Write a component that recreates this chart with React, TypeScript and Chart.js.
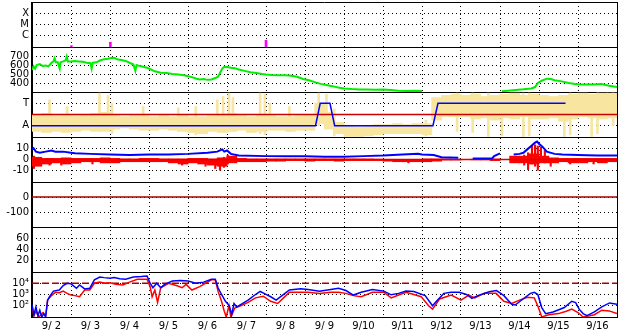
import React, { useEffect, useRef } from 'react';
import { Chart, registerables } from 'chart.js';

Chart.register(...registerables);

const FONT = "'DejaVu Sans', 'Liberation Sans', sans-serif";

// ---------- X axis (days since 9/2 00:00) ----------
const DAY_LABELS = ['9/ 2', '9/ 3', '9/ 4', '9/ 5', '9/ 6', '9/ 7', '9/ 8', '9/ 9', '9/10', '9/11', '9/12', '9/13', '9/14', '9/15', '9/16'];
const X_MIN = 0;
const X_MAX = 15;

// ---------- Panel 1: X-ray flares ----------
const FLARE_CLASS_LABELS = ['', 'C', 'M', 'X', ''];
const FLARE_T = [1.01, 2.01, 6.0];
const FLARE_V = [0.12, 0.42, 0.6];

// ---------- Panel 2: solar wind speed ----------
const SW_TICKS_SHOWN = [400, 500, 600, 700];
const SW_T = [0, 0.04, 0.08, 0.12, 0.2, 0.27, 0.35, 0.42, 0.5, 0.55,
  0.58, 0.61, 0.66, 0.71, 0.73, 0.8, 0.86, 0.89, 0.92, 1.0,
  1.1, 1.2, 1.3, 1.4, 1.5, 1.53, 1.56, 1.65, 1.74, 1.85,
  1.95, 2.05, 2.12, 2.2, 2.3, 2.4, 2.5, 2.6, 2.65, 2.68,
  2.75, 2.85, 2.95, 3.05, 3.15, 3.3, 3.45, 3.6, 3.75, 3.9,
  4.0, 4.1, 4.2, 4.3, 4.4, 4.5, 4.6, 4.7, 4.77, 4.83,
  4.88, 4.93, 5.0, 5.1, 5.2, 5.3, 5.45, 5.6, 5.75, 5.9,
  6.0, 6.15, 6.3, 6.5, 6.65, 6.8, 6.95, 7.1, 7.25, 7.4,
  7.55, 7.7, 7.85, 8.0, 8.2, 8.4, 8.6, 8.8, 9.0, 9.2,
  9.4, 9.6, 9.8, 10.0, 10.02, 12.05, 12.2, 12.4, 12.6, 12.8,
  12.9, 12.97, 13.07, 13.2, 13.3, 13.4, 13.58, 13.76, 13.93, 14.1,
  14.4, 14.6, 14.8, 15.0];
const SW_V = [545, 585, 560, 600, 610, 590, 595, 585, 625, 640,
  675, 630, 630, 560, 630, 640, 650, 695, 640, 640,
  645, 640, 635, 625, 620, 560, 625, 630, 650, 665,
  670, 680, 678, 660, 655, 645, 625, 605, 535, 600,
  590, 580, 570, 550, 530, 515, 510, 500, 495, 485,
  475, 465, 450, 440, 445, 435, 440, 455, 470, 520,
  560, 580, 578, 570, 565, 550, 535, 520, 510, 500,
  495, 490, 487, 485, 480, 470, 445, 430, 410, 390,
  378, 365, 350, 340, 333, 328, 328, 326, 328, 322,
  315, 312, 315, 312, null, 308, 315, 322, 330, 340,
  355, 400, 425, 448, 445, 430, 418, 400, 390, 382,
  384, 388, 370, 355];

// ---------- Panel 3: IMF sector (A / T) ----------
const SECTOR_LABELS = ['', 'A', '', 'T', ''];
const BIN_DAYS = 0.25;
const PHI_LO = [0.5, 0.4, 0.5, 0.4, 0.5, 0.6, 0.5, 0.5, 0.7, 0.8, 0.7, 0.6, 0.6, 0.7, 0.6, 0.5,
  0.4, 0.3, 0.5, 0.4, 0.5, 0.6, 0.4, 0.5, 0.6, 0.6, 0.5, 0.6, 0.6, 1.2, 0.7, 0.3,
  0.0, 0.0, 0.1, 0.2, 0.3, 0.3, 0.3, 0.3, 0.2, 1.5, 1.8, 1.8, 1.8, 1.6, 1.7, 1.5,
  1.7, 1.6, 1.8, 1.6, 1.6, 1.7, 1.4, 1.6, 1.8, 1.7, 1.6, 1.7];
const PHI_HI = [2.0, 2.1, 1.9, 2.0, 1.9, 2.0, 2.1, 2.2, 1.9, 1.8, 1.9, 1.9, 1.8, 1.9, 1.8, 2.0,
  1.8, 1.8, 1.9, 2.0, 2.1, 1.9, 1.8, 2.0, 1.9, 1.8, 1.8, 1.9, 2.0, 3.0, 2.2, 1.3,
  1.0, 0.9, 1.0, 1.1, 1.1, 1.2, 1.1, 1.2, 1.2, 3.5, 3.7, 3.8, 3.7, 3.8, 3.6, 3.7,
  3.8, 3.9, 3.7, 3.8, 3.7, 3.6, 3.7, 3.8, 3.9, 3.8, 3.9, 3.9];
const PHI_SPIKE_T = [0.45, 0.9, 1.73, 1.95, 2.05, 2.85, 3.75, 4.2, 4.75, 4.9,
  5.05, 5.15, 5.85, 5.97, 6.1, 6.6, 7.35, 7.55, 7.75, 10.1,
  10.9, 11.3, 11.7, 12.05, 12.6, 12.75, 13.65, 13.8, 14.35, 14.5, 14.9];
const PHI_SPIKE_LO = [1.0, 0.8, 0.5, 1.0, 0.3, 1.0, 0.5, 0.2, 1.0, 0.5,
  0.5, 0.5, 0.3, 0.2, 0.8, 0.5, 1.0, 1.0, 0.1, 0.1,
  0.5, 0.4, 0.0, 0.1, 0.0, 0.1, 0.0, 0.2, 0.0, 0.3, 1.0];
const PHI_SPIKE_HI = [3.3, 2.7, 3.9, 3.7, 3.0, 2.7, 2.6, 2.7, 3.3, 3.6,
  3.9, 3.5, 3.9, 3.8, 3.0, 2.7, 3.9, 3.8, 2.5, 1.5,
  3.9, 3.9, 3.9, 3.5, 3.9, 3.9, 3.5, 3.9, 3.8, 3.9, 3.9];
const SECTOR_T = [0, 7.27, 7.39, 7.64, 7.76, 10.28, 10.41, 13.68];
const SECTOR_V = [1, 1, 3, 3, 1, 1, 3, 3];
const SECTOR_BOUNDARY = 2;

// ---------- Panel 4: IMF Bt / Bz ----------
const IMF_TICKS_SHOWN = [10, 0, -10];
const BT_T = [0, 0.04, 0.1, 0.2, 0.35, 0.5, 0.6, 0.8, 1.0, 1.1,
  1.5, 2.0, 2.5, 3.0, 3.5, 4.0, 4.5, 4.75, 4.88, 4.93,
  5.0, 5.1, 5.3, 6.0, 6.5, 7.0, 7.5, 8.0, 8.5, 9.0,
  9.5, 9.9, 10.0, 10.3, 10.5, 10.93, 10.95, 11.3, 11.8, 11.85,
  12.0, 12.02, 12.35, 12.5, 12.6, 12.7, 12.8, 12.9, 12.95, 13.0,
  13.1, 13.2, 13.4, 13.6, 14.0, 14.5, 15.0];
const BT_V = [9, 10, 7, 6, 7, 8, 7, 7, 6, 5.5,
  5, 4.5, 4, 4.5, 4.5, 5, 6, 7, 9, 7,
  8, 5, 3.5, 3, 3, 2.8, 2.5, 2.5, 3, 3.5,
  4.5, 5, 4.5, 4, 2, 1.5, null, 1, 1, 3,
  5.5, null, 4.5, 5, 6, 9, 12, 15, 16, 14,
  11, 7, 5, 4.5, 4, 3.5, 3.5];
const BZ_LO = [-6, -4, -3, -4, -3, -2, -2, -3, -3, -2, -2, -2, -2, -2, -3, -4,
  -3, -4, -5, -6, -3, -2, -2, -2, -1.5, -1.5, -1, -1, -1.5, -1, -1, -1.5,
  -1, -1, -1, -1, -1.5, -2, -2, -2, -2, -1.5, -0.5, -0.5, null, -0.3, -0.3, -1,
  null, -3, -3, -4, -3, -3, -2, -3, -3, -2, -3, -2];
const BZ_HI = [2, 1, 1, 1.5, 1, 1, 1, 1.5, 1, 0.5, 0.5, 1, 1, 0.5, 0.5, 0.5,
  1, 1, 0.5, 1.5, 3, 1, 0.5, 0.5, 0.5, 0.5, 0.5, 0.5, 0.5, 0.5, 0.5, 0.5,
  0.5, 0.5, 0.5, 0.3, 0, 0, 0, 0, 0.5, 0.5, 0.5, 0.3, null, 0.3, 0.3, 0.5,
  null, 3, 3, 5, 3, 1.5, 1, 1, 1, 1, 1, 1];
const BZ_SPIKE_T = [0.05, 0.45, 0.75, 1.55, 3.85, 4.45, 4.7, 4.82, 4.92, 5.02, 9.65,
  12.62, 12.72, 12.82, 12.9, 12.97, 13.05, 13.15, 13.3, 13.8, 14.4];
const BZ_SPIKE_LO = [-8, -5, -5, -4, -5, -6, -8, -9.5, -7, -4, -3, -5, -9, -4, -6, -9.5, -2, -3, -6, -4, -4];
const BZ_SPIKE_HI = [3, 1, 0, 0, 0, 0, 0, 0, 2, 4, 0, 4, 6, 12, 13, 12, 11, 8, 1, 0, 0];
const IMF_ZERO = 0;

// ---------- Panel 5 ----------
const DST_TICKS_SHOWN = [0, -100];
const DST_ZERO = 0;

// ---------- Panel 6 ----------
const P6_TICKS_SHOWN = [20, 40, 60];

// ---------- Panel 7: electron flux (log) ----------
const LOG_TICKS = [10, 100, 1000, 10000, 100000];
const LOG_LABELS: Record<number, string> = { 100: '10²', 1000: '10³', 10000: '10⁴' };
const FLUX_ALERT = 10000;
const FLUX_BLUE_T = [0, 0.05, 0.1, 0.15, 0.2, 0.25, 0.3, 0.35, 0.4, 0.45,
  0.55, 0.7, 0.8, 0.9, 1.0, 1.14, 1.22, 1.35, 1.48, 1.6,
  1.74, 1.85, 2.0, 2.1, 2.25, 2.4, 2.6, 2.8, 2.95, 3.03,
  3.1, 3.2, 3.3, 3.4, 3.6, 3.8, 4.0, 4.2, 4.4, 4.6,
  4.7, 4.77, 4.86, 4.96, 5.06, 5.12, 5.18, 5.25, 5.35, 5.54,
  5.73, 5.85, 5.95, 6.12, 6.26, 6.41, 6.6, 6.89, 7.08, 7.37,
  7.66, 7.86, 8.05, 8.24, 8.44, 8.73, 9.02, 9.21, 9.4, 9.59,
  9.79, 10.08, 10.27, 10.37, 10.56, 10.75, 10.95, 11.14, 11.28, 11.43,
  11.72, 11.91, 12.1, 12.3, 12.39, 12.59, 12.78, 12.88, 12.97, 13.07,
  13.17, 13.36, 13.65, 13.84, 13.94, 14.03, 14.13, 14.23, 14.42, 14.61,
  14.81, 15.0];
const FLUX_BLUE = [126, 16, 79, 13, 40, 10, 20, 10, 316, 631,
  1995, 2512, 6310, 10000, 8913, 3548, 7079, 3162, 3548, 19953,
  35481, 31623, 28184, 31623, 25119, 22387, 35481, 39811, 44668, 10000,
  3981, 10000, 3981, 7943, 15849, 17783, 15849, 10000, 12589, 22387,
  22387, 3981, 1000, 251, 100, 16, 158, 79, 126, 316,
  1000, 1862, 1259, 631, 316, 794, 2512, 3162, 2818, 1995,
  2818, 3548, 2239, 891, 1585, 2818, 1995, 933, 1259, 1995,
  1862, 794, 100, 251, 1259, 1585, 1585, 1000, 447, 794,
  1778, 2239, 794, 135, 117, 398, 1259, 1585, 1000, 69,
  20, 28, 69, 251, 190, 50, 20, 13, 28, 79,
  178, 135];
const FLUX_RED_T = [0, 0.05, 0.1, 0.18, 0.28, 0.35, 0.4, 0.5, 0.6, 0.7,
  0.8, 0.9, 1.0, 1.1, 1.22, 1.35, 1.48, 1.6, 1.74, 1.85,
  2.0, 2.15, 2.33, 2.5, 2.7, 2.95, 3.03, 3.08, 3.15, 3.22,
  3.3, 3.5, 3.7, 3.85, 3.95, 4.1, 4.3, 4.5, 4.6, 4.7,
  4.77, 4.86, 4.93, 4.98, 5.05, 5.1, 5.2, 5.35, 5.54, 5.73,
  5.93, 6.12, 6.3, 6.45, 6.6, 6.89, 7.08, 7.37, 7.66, 7.86,
  8.05, 8.24, 8.44, 8.73, 9.02, 9.21, 9.4, 9.59, 9.79, 9.98,
  10.17, 10.27, 10.45, 10.75, 11.0, 11.2, 11.35, 11.6, 11.9, 12.1,
  12.3, 12.5, 12.7, 12.88, 12.98, 13.07, 13.25, 13.5, 13.7, 13.84,
  14.0, 14.13, 14.3, 14.42, 14.61, 14.8, 15.0];
const FLUX_RED = [79, 13, 32, 10, 25, 13, 316, 794, 1585, 1413,
  1995, 1259, 891, 794, 631, 2512, 2512, 10000, 12589, 10000,
  11220, 7943, 7079, 12589, 22387, 22387, 5012, 631, 2512, 200,
  3981, 10000, 6310, 3981, 7943, 2512, 5012, 12589, 19953, 19953,
  1995, 251, 32, 10, 100, 10, 63, 100, 200, 501,
  708, 251, 158, 501, 1585, 1585, 1585, 1259, 1585, 1585,
  1259, 794, 631, 1585, 1585, 501, 891, 1585, 1000, 631,
  100, 50, 398, 891, 316, 891, 501, 1259, 1259, 251,
  158, 316, 562, 501, 79, 10, 16, 20, 32, 50,
  25, 10, 13, 16, 40, 35, 20];

// ---------- helpers ----------
const xy = (ts: number[], vs: (number | null)[]) => ts.map((t, i) => ({ x: t, y: vs[i] }));
const binned = (lo: (number | null)[], hi: (number | null)[]) =>
  lo.map((l, i) => ({ l, h: hi[i], x: i * BIN_DAYS + BIN_DAYS / 2 }))
    .filter((d) => d.l !== null && d.h !== null)
    .map((d) => ({ x: d.x, y: [d.l as number, d.h as number] }));
const ranges = (ts: number[], lo: number[], hi: number[]) => ts.map((t, i) => ({ x: t, y: [lo[i], hi[i]] }));
const hline = (v: number) => [{ x: X_MIN, y: v }, { x: X_MAX, y: v }];

const AXIS_W = 32;
const DOTS = [1, 3];
const SOLID: number[] = [];
const BLACK = '#000000';
const NONE = 'rgba(0,0,0,0)';

function yAxis(weight: number, min: number, max: number, step: number | undefined,
  label: (v: number) => string, hidden: number[] = [], extra: any = {}) {
  return {
    type: 'linear',
    position: 'left',
    stack: 'panels',
    stackWeight: 1,
    weight,
    min,
    max,
    offset: false,
    afterFit: (s: any) => { s.width = AXIS_W; s.paddingTop = 0; s.paddingBottom = 0; },
    grid: {
      drawTicks: false,
      lineWidth: 1,
      color: (c: any) => (c.tick && hidden.includes(c.tick.value) ? NONE : BLACK),
    },
    border: {
      display: true,
      color: BLACK,
      width: 1,
      dash: (c: any) => (c.tick && (c.tick.value === min || c.tick.value === max) ? SOLID : DOTS),
    },
    ticks: {
      stepSize: step,
      autoSkip: false,
      padding: 3,
      color: BLACK,
      font: { family: FONT, size: 10 },
      callback: (v: number) => label(Number(v)),
    },
    ...extra,
  };
}

const line = (data: any[], yAxisID: string, color: string, width: number, order: number, extra: any = {}) => ({
  type: 'line',
  data,
  yAxisID,
  xAxisID: 'x',
  borderColor: color,
  backgroundColor: color,
  borderWidth: width,
  pointRadius: 0,
  tension: 0,
  fill: false,
  clip: 0,
  order,
  ...extra,
});

const bars = (data: any[], yAxisID: string, color: string, thickness: number, order: number) => ({
  type: 'bar',
  data,
  yAxisID,
  xAxisID: 'x',
  backgroundColor: color,
  borderWidth: 0,
  barThickness: thickness,
  grouped: false,
  clip: 0,
  order,
});

export default function App() {
  const ref = useRef<HTMLCanvasElement>(null);

  useEffect(() => {
    if (!ref.current) return;
    const chart = new Chart(ref.current, {
      type: 'line',
      data: {
        datasets: [
          bars(ranges(FLARE_T, FLARE_T.map(() => 0), FLARE_V), 'p1', '#ff00ff', 2, 1) as any,
          line(xy(SW_T, SW_V), 'p2', '#00ee00', 2, 1),
          bars(binned(PHI_LO, PHI_HI), 'p3', '#f8e6a0', 10, 30) as any,
          bars(ranges(PHI_SPIKE_T, PHI_SPIKE_LO, PHI_SPIKE_HI), 'p3', '#f8e6a0', 2, 29) as any,
          line(hline(SECTOR_BOUNDARY), 'p3', '#cc0000', 1.5, 10),
          line(xy(SECTOR_T, SECTOR_V), 'p3', '#0000ff', 1.5, 5),
          bars(binned(BZ_LO, BZ_HI), 'p4', '#ff0000', 10, 30) as any,
          bars(ranges(BZ_SPIKE_T, BZ_SPIKE_LO, BZ_SPIKE_HI), 'p4', '#ff0000', 1.5, 29) as any,
          line(hline(IMF_ZERO), 'p4', '#dd0000', 1.5, 20),
          line(xy(BT_T, BT_V), 'p4', '#0000ff', 2, 5),
          line(hline(DST_ZERO), 'p5', '#aa0000', 1.5, 5),
          line(hline(FLUX_ALERT), 'p7', '#aa0000', 1.5, 20, { borderDash: [7, 3] }),
          line(xy(FLUX_RED_T, FLUX_RED), 'p7', '#ff0000', 1.5, 8),
          line(xy(FLUX_BLUE_T, FLUX_BLUE), 'p7', '#0000ff', 1.5, 6),
        ],
      },
      options: {
        responsive: false,
        animation: false,
        devicePixelRatio: 1,
        events: [],
        layout: { padding: { left: 0, right: 11, top: 2, bottom: 0 } },
        plugins: { legend: { display: false }, tooltip: { enabled: false } },
        scales: {
          x: {
            type: 'linear',
            position: 'bottom',
            min: X_MIN,
            max: X_MAX,
            offset: false,
            afterFit: (s: any) => { s.height = 17; s.paddingLeft = 0; s.paddingRight = 0; },
            grid: {
              drawTicks: false,
              offset: false,
              lineWidth: 1,
              color: (c: any) => (c.tick && Number.isInteger(c.tick.value) ? BLACK : NONE),
            },
            border: {
              display: true,
              color: BLACK,
              width: 1,
              dash: (c: any) => (c.tick && (c.tick.value === X_MIN || c.tick.value === X_MAX) ? SOLID : DOTS),
            },
            ticks: {
              stepSize: 0.5,
              autoSkip: false,
              maxRotation: 0,
              minRotation: 0,
              padding: 3,
              color: BLACK,
              font: { family: FONT, size: 10 },
              callback: (v: any) => {
                const n = Number(v);
                return Number.isInteger(n) ? '' : DAY_LABELS[Math.floor(n)] ?? '';
              },
            },
          },
          p1: yAxis(7, 0, 4, 1, (v) => FLARE_CLASS_LABELS[v] ?? ''),
          p2: yAxis(6, 300, 800, 100, (v) => (SW_TICKS_SHOWN.includes(v) ? String(v) : '')),
          p3: yAxis(5, 0, 4, 1, (v) => SECTOR_LABELS[v] ?? '', [SECTOR_BOUNDARY]),
          p4: yAxis(4, -20, 20, 10, (v) => (IMF_TICKS_SHOWN.includes(v) ? String(v) : '')),
          p5: yAxis(3, -200, 100, 100, (v) => (DST_TICKS_SHOWN.includes(v) ? String(v) : '')),
          p6: yAxis(2, 0, 80, 20, (v) => (P6_TICKS_SHOWN.includes(v) ? String(v) : '')),
          p7: yAxis(1, 10, 100000, undefined, (v) => LOG_LABELS[v] ?? '', [], {
            type: 'logarithmic',
            afterBuildTicks: (s: any) => { s.ticks = LOG_TICKS.map((value) => ({ value })); },
          }),
        } as any,
      },
    } as any);
    return () => chart.destroy();
  }, []);

  return (
    <div style={{ position: 'fixed', left: 0, top: 0, width: 628, height: 334, background: '#ffffff' }}>
      <canvas ref={ref} width={628} height={334} style={{ display: 'block', width: 628, height: 334 }} />
    </div>
  );
}
